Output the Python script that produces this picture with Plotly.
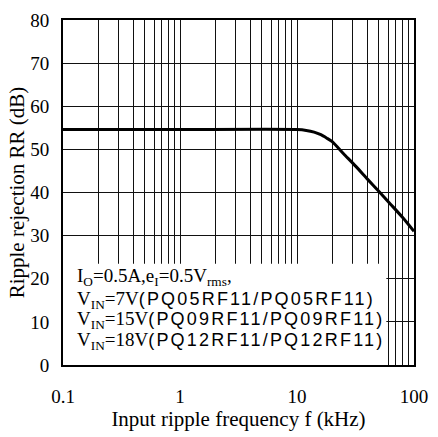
import plotly.graph_objects as go

# Ripple rejection vs. input ripple frequency
freq_khz = [0.1, 1, 10, 12, 14, 16, 18, 20, 25, 32, 40, 50, 63, 80, 100]
rr_db = [54.6, 54.6, 54.6, 54.4, 54.0, 53.4, 52.6, 51.8, 49.0, 46.0, 43.1, 40.3, 37.3, 34.2, 31.0]

x_ticks = [0.1, 1, 10, 100]
x_tick_text = ["0.1", "1", "10", "100"]
x_minor = [m * d for d in (0.1, 1, 10) for m in range(2, 10)]
y_ticks = [0, 10, 20, 30, 40, 50, 60, 70, 80]

sans = "<span style=\"font-family:Liberation Sans;font-size:18px;letter-spacing:2.2px\">{}</span>"
cond_lines = [
    "I<sub>O</sub>=0.5A,e<sub>I</sub>=0.5V<sub>rms</sub>,",
    "V<sub>IN</sub>=7V" + sans.format("(PQ05RF11/PQ05RF11)"),
    "V<sub>IN</sub>=15V" + sans.format("(PQ09RF11/PQ09RF11)"),
    "V<sub>IN</sub>=18V" + sans.format("(PQ12RF11/PQ12RF11)"),
]
cond_y = [0.256, 0.189, 0.131, 0.071]

serif = "Liberation Serif"

fig = go.Figure()
fig.add_trace(go.Scatter(
    x=freq_khz, y=rr_db, mode="lines",
    line=dict(color="black", width=3, shape="spline", smoothing=0.6),
    showlegend=False, hoverinfo="skip",
))

# white panel behind the test-condition notes
fig.add_shape(type="rect", xref="x", yref="y", x0=0.1, x1=58, y0=0, y1=23.5,
              fillcolor="white", line=dict(width=0), layer="between")

for txt, yy in zip(cond_lines, cond_y):
    fig.add_annotation(text=txt, xref="paper", yref="paper", x=0.034, y=yy,
                       xanchor="left", yanchor="middle", showarrow=False,
                       font=dict(family=serif, size=19, color="black"))

fig.update_xaxes(
    type="log", range=[-1, 2],
    tickmode="array", tickvals=x_ticks, ticktext=x_tick_text,
    ticks="", ticklabelstandoff=13,
    showgrid=True, gridcolor="#111", gridwidth=1,
    minor=dict(tickmode="array", tickvals=x_minor, showgrid=True,
               gridcolor="#111", gridwidth=1, ticks=""),
    showline=True, linecolor="black", linewidth=2, mirror=True,
    tickfont=dict(family=serif, size=19, color="black"),
    title=dict(text="Input ripple frequency f (kHz)", standoff=5,
               font=dict(family=serif, size=21, color="black")),
    zeroline=False,
)
fig.update_yaxes(
    range=[0, 80], tickmode="array", tickvals=y_ticks,
    ticks="", ticklabelstandoff=8,
    showgrid=True, gridcolor="#111", gridwidth=1,
    showline=True, linecolor="black", linewidth=2, mirror=True,
    tickfont=dict(family=serif, size=19, color="black"),
    title=dict(text="Ripple rejection RR (dB)", standoff=0,
               font=dict(family=serif, size=21, color="black")),
    zeroline=False,
)

fig.update_layout(
    width=438, height=437,
    margin=dict(l=63, r=20, t=10, b=72),
    paper_bgcolor="white", plot_bgcolor="white",
)

fig.write_html("out.html")
